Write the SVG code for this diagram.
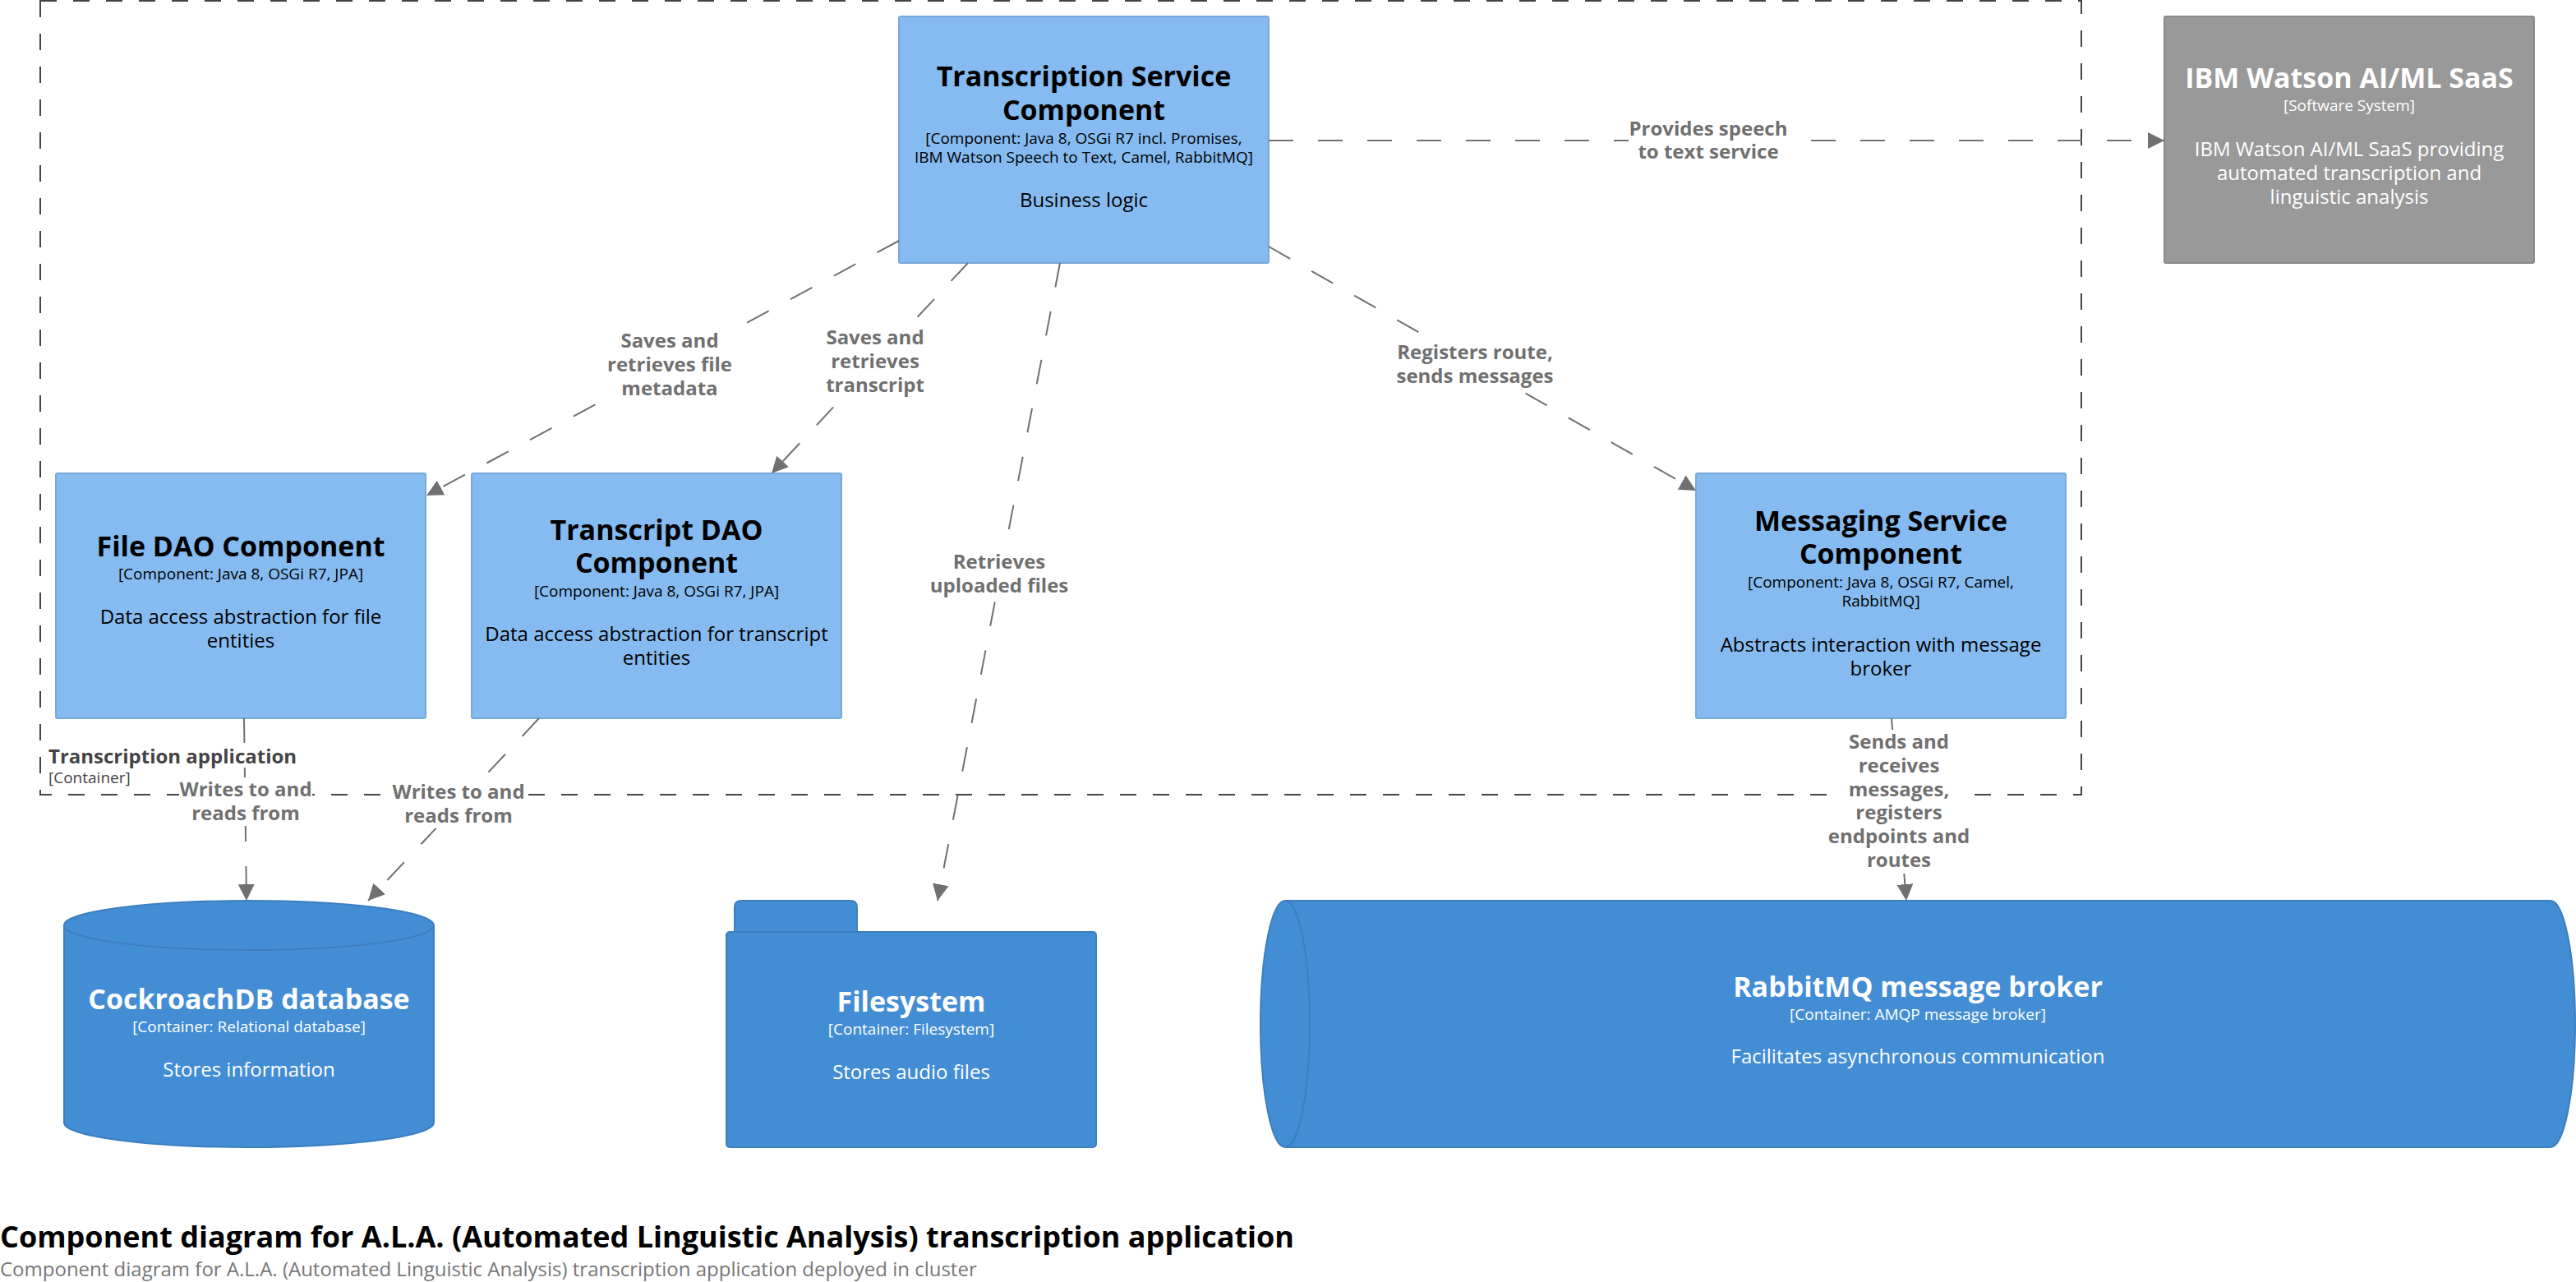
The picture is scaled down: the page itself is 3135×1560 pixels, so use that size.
<svg xmlns="http://www.w3.org/2000/svg" width="3135" height="1560" viewBox="0 0 3135 1560">
<defs>
<style>
text{font-family:"Open Sans","Liberation Sans",sans-serif;text-anchor:middle}
.cmp{fill:#85BBF0;stroke:#78A8D8;stroke-width:2}
.cnt{fill:#438DD5;stroke:#3C7FC0;stroke-width:2}
.ext{fill:#999999;stroke:#8A8A8A;stroke-width:2}
.n{font-size:34px;font-weight:bold}
.m{font-size:19px}
.d{font-size:24px}
.dk{fill:#000000}
.wt{fill:#ffffff}
.rel{fill:none;stroke:#707070;stroke-width:2;stroke-dasharray:30 30;marker-end:url(#arr)}
.lb{font-size:24px;font-weight:bold;fill:#707070}
.bg{fill:#ffffff}
</style>
<marker id="arr" markerUnits="userSpaceOnUse" markerWidth="20" markerHeight="20" refX="20" refY="10" orient="auto">
<path d="M0,0 L20,10 L0,20 Z" fill="#707070"/>
</marker>
</defs>
<rect width="3135" height="1560" fill="#ffffff"/>

<g id="boundary-transcription-application">
<rect x="49" y="1" width="2484" height="966" fill="none" stroke="#444444" stroke-width="2" stroke-dasharray="20 20"/>
<text x="59" y="929" style="text-anchor:start;font-size:24px;font-weight:bold" fill="#444444">Transcription application</text>
<text x="59" y="953" style="text-anchor:start;font-size:19px" fill="#444444">[Container]</text>
</g>

<g id="node-transcription-service">
<rect class="cmp" x="1094" y="20" width="450" height="300" rx="2"/>
<text class="n dk" x="1319" y="105">Transcription Service</text>
<text class="n dk" x="1319" y="146">Component</text>
<text class="m dk" x="1319" y="175">[Component: Java 8, OSGi R7 incl. Promises,</text>
<text class="m dk" x="1319" y="198">IBM Watson Speech to Text, Camel, RabbitMQ]</text>
<text class="d dk" x="1319" y="252">Business logic</text>
</g>

<g id="node-ibm-watson">
<rect class="ext" x="2634" y="20" width="450" height="300" rx="2"/>
<text class="n wt" x="2859" y="107">IBM Watson AI/ML SaaS</text>
<text class="m wt" x="2859" y="135">[Software System]</text>
<text class="d wt" x="2859" y="190">IBM Watson AI/ML SaaS providing</text>
<text class="d wt" x="2859" y="219">automated transcription and</text>
<text class="d wt" x="2859" y="248">linguistic analysis</text>
</g>

<g id="node-file-dao">
<rect class="cmp" x="68" y="576" width="450" height="298" rx="2"/>
<text class="n dk" x="293" y="677">File DAO Component</text>
<text class="m dk" x="293" y="705">[Component: Java 8, OSGi R7, JPA]</text>
<text class="d dk" x="293" y="759">Data access abstraction for file</text>
<text class="d dk" x="293" y="788">entities</text>
</g>

<g id="node-transcript-dao">
<rect class="cmp" x="574" y="576" width="450" height="298" rx="2"/>
<text class="n dk" x="799" y="657">Transcript DAO</text>
<text class="n dk" x="799" y="697">Component</text>
<text class="m dk" x="799" y="726">[Component: Java 8, OSGi R7, JPA]</text>
<text class="d dk" x="799" y="780">Data access abstraction for transcript</text>
<text class="d dk" x="799" y="809">entities</text>
</g>

<g id="node-messaging-service">
<rect class="cmp" x="2064" y="576" width="450" height="298" rx="2"/>
<text class="n dk" x="2289" y="646">Messaging Service</text>
<text class="n dk" x="2289" y="686">Component</text>
<text class="m dk" x="2289" y="715">[Component: Java 8, OSGi R7, Camel,</text>
<text class="m dk" x="2289" y="738">RabbitMQ]</text>
<text class="d dk" x="2289" y="793">Abstracts interaction with message</text>
<text class="d dk" x="2289" y="822">broker</text>
</g>

<g id="node-cockroachdb">
<path class="cnt" d="M78,1126 A225,30 0 0 1 528,1126 L528,1366 A225,30 0 0 1 78,1366 Z"/>
<path d="M78,1126 A225,30 0 0 0 528,1126" fill="none" stroke="#3C7FC0" stroke-width="2"/>
<text class="n wt" x="303" y="1228">CockroachDB database</text>
<text class="m wt" x="303" y="1256">[Container: Relational database]</text>
<text class="d wt" x="303" y="1310">Stores information</text>
</g>

<g id="node-filesystem">
<path class="cnt" d="M894,1140 L894,1104 Q894,1096 902,1096 L1035,1096 Q1043,1096 1043,1104 L1043,1140 Z"/>
<rect class="cnt" x="884" y="1134" width="450" height="262" rx="4"/>
<text class="n wt" x="1109" y="1231">Filesystem</text>
<text class="m wt" x="1109" y="1259">[Container: Filesystem]</text>
<text class="d wt" x="1109" y="1313">Stores audio files</text>
</g>

<g id="node-rabbitmq">
<path class="cnt" d="M1564,1096 L3104,1096 A30,150 0 0 1 3104,1396 L1564,1396 A30,150 0 0 1 1564,1096 Z"/>
<path d="M1564,1096 A30,150 0 0 1 1564,1396" fill="none" stroke="#3C7FC0" stroke-width="2"/>
<text class="n wt" x="2334" y="1213">RabbitMQ message broker</text>
<text class="m wt" x="2334" y="1241">[Container: AMQP message broker]</text>
<text class="d wt" x="2334" y="1294">Facilitates asynchronous communication</text>
</g>

<g id="connectors">
<path class="rel" d="M1544,171 L2634,171"/>
<path class="rel" d="M1094,293 L519,603"/>
<path class="rel" d="M1178,320 L939,576"/>
<path class="rel" d="M1290,320 L1141,1096"/>
<path class="rel" d="M1544,300 L2064,597"/>
<path class="rel" d="M297,874 L300,1096"/>
<path class="rel" d="M656,874 L448,1096"/>
<path class="rel" d="M2302,874 L2320,1096"/>

<rect class="bg" x="1982" y="146" width="194" height="54"/>
<text class="lb" x="2079" y="165">Provides speech</text>
<text class="lb" x="2079" y="193">to text service</text>

<rect class="bg" x="738" y="400" width="154" height="88"/>
<text class="lb" x="815" y="423">Saves and</text>
<text class="lb" x="815" y="452">retrieves file</text>
<text class="lb" x="815" y="481">metadata</text>

<rect class="bg" x="1004" y="396" width="122" height="88"/>
<text class="lb" x="1065" y="419">Saves and</text>
<text class="lb" x="1065" y="448">retrieves</text>
<text class="lb" x="1065" y="477">transcript</text>

<rect class="bg" x="1132" y="669" width="168" height="59"/>
<text class="lb" x="1216" y="692">Retrieves</text>
<text class="lb" x="1216" y="721">uploaded files</text>

<rect class="bg" x="1699" y="414" width="192" height="59"/>
<text class="lb" x="1795" y="437">Registers route,</text>
<text class="lb" x="1795" y="466">sends messages</text>

<rect class="bg" x="2224" y="888" width="174" height="175"/>
<text class="lb" x="2311" y="911">Sends and</text>
<text class="lb" x="2311" y="940">receives</text>
<text class="lb" x="2311" y="969">messages,</text>
<text class="lb" x="2311" y="997">registers</text>
<text class="lb" x="2311" y="1026">endpoints and</text>
<text class="lb" x="2311" y="1055">routes</text>

<rect class="bg" x="218" y="946" width="162" height="59"/>
<text class="lb" x="299" y="969">Writes to and</text>
<text class="lb" x="299" y="998">reads from</text>

<rect class="bg" x="477" y="949" width="162" height="59"/>
<text class="lb" x="558" y="972">Writes to and</text>
<text class="lb" x="558" y="1001">reads from</text>
</g>

<g id="title">
<text x="0" y="1518" style="text-anchor:start;font-size:36px;font-weight:bold" fill="#000000">Component diagram for A.L.A. (Automated Linguistic Analysis) transcription application</text>
<text x="0" y="1553" style="text-anchor:start;font-size:24px" fill="#777777">Component diagram for A.L.A. (Automated Linguistic Analysis) transcription application deployed in cluster</text>
</g>
</svg>
